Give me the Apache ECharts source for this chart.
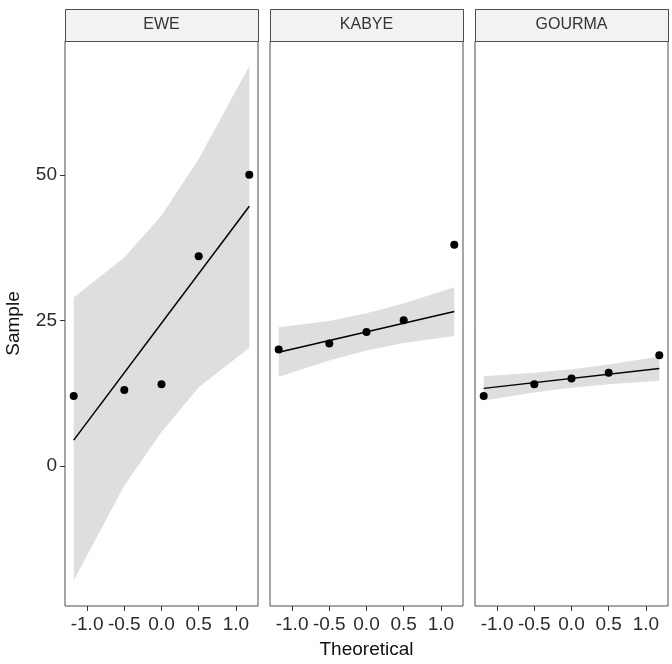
<!DOCTYPE html>
<html>
<head>
<meta charset="utf-8">
<script src="https://cdn.jsdelivr.net/npm/echarts@6/dist/echarts.min.js"></script>
<style>
  html, body { margin: 0; background: #fff; }
  #chart { width: 672px; height: 664px; }
</style>
</head>
<body>
<div id="chart"></div>
<script>
// facets
const panels = ['EWE', 'KABYE', 'GOURMA']
// theoretical normal quantiles (n = 5)
const theoretical = [-1.18, -0.5, 0, 0.5, 1.18]
const xTicks = [-1, -0.5, 0, 0.5, 1]
const yTicks = [0, 25, 50]

// sample values per facet
const sampleEwe = [12, 13, 14, 36, 50]
const sampleKabye = [20, 21, 23, 25, 38]
const sampleGourma = [12, 14, 15, 16, 19]

// qq line, value at the first and last theoretical quantile
const lineEwe = [4.4, 44.6]
const lineKabye = [19.5, 26.5]
const lineGourma = [13.3, 16.7]

// confidence band (lower / upper) at each theoretical quantile
const bandLowEwe = [-19.7, -3.4, 5.8, 13.5, 20.3]
const bandHighEwe = [28.9, 35.8, 43.0, 52.7, 68.7]
const bandLowKabye = [15.3, 18.1, 19.8, 21.1, 22.3]
const bandHighKabye = [23.8, 24.9, 26.2, 27.9, 30.7]
const bandLowGourma = [11.2, 12.6, 13.4, 14.0, 14.6]
const bandHighGourma = [15.4, 16.0, 16.6, 17.4, 18.8]

const samples = [sampleEwe, sampleKabye, sampleGourma]
const lines = [lineEwe, lineKabye, lineGourma]
const bandsLow = [bandLowEwe, bandLowKabye, bandLowGourma]
const bandsHigh = [bandHighEwe, bandHighKabye, bandHighGourma]

const font = 'Liberation Sans, Arial, sans-serif'
const panelLeft = [65, 270, 475]
const panelWidth = 193
const panelTop = 41
const panelHeight = 565
const stripTop = 9

const chart = echarts.init(document.getElementById('chart'))

const grid = panels.map((p, i) => ({
  left: panelLeft[i], top: panelTop, width: panelWidth, height: panelHeight,
  outerBoundsMode: 'none',
  show: true, borderColor: '#4d4d4d', borderWidth: 1, backgroundColor: '#fff'
}))

const xAxis = panels.map((p, i) => ({
  type: 'value', gridIndex: i, min: -1.297, max: 1.297,
  axisLine: { show: false, onZero: false },
  splitLine: { show: false },
  axisTick: { show: true, length: 5, customValues: xTicks, lineStyle: { color: '#333' } },
  axisLabel: {
    customValues: xTicks, color: '#2b2b2b', fontSize: 19, fontFamily: font, margin: 9,
    formatter: v => v.toFixed(1)
  },
  name: i === 1 ? 'Theoretical' : '',
  nameLocation: 'middle', nameGap: 34,
  nameTextStyle: { color: '#111', fontSize: 19, fontFamily: font }
}))

const yAxis = panels.map((p, i) => ({
  type: 'value', gridIndex: i, min: -24.1, max: 73.0,
  axisLine: { show: false, onZero: false },
  splitLine: { show: false },
  axisTick: { show: i === 0, length: 5, customValues: yTicks, lineStyle: { color: '#333' } },
  axisLabel: { show: i === 0, customValues: yTicks, color: '#2b2b2b', fontSize: 19, fontFamily: font, margin: 8 },
  name: i === 0 ? 'Sample' : '',
  nameLocation: 'middle', nameGap: 42,
  nameTextStyle: { color: '#111', fontSize: 19, fontFamily: font }
}))

function bandRender(lo, hi) {
  return (params, api) => {
    if (params.dataIndex !== 0) return
    const top = theoretical.map((x, k) => api.coord([x, hi[k]]))
    const bot = theoretical.map((x, k) => api.coord([x, lo[k]])).reverse()
    return { type: 'polygon', shape: { points: top.concat(bot) }, style: { fill: '#dedede' } }
  }
}

const series = []
panels.forEach((p, i) => {
  series.push({
    type: 'custom', xAxisIndex: i, yAxisIndex: i, silent: true,
    renderItem: bandRender(bandsLow[i], bandsHigh[i]),
    data: theoretical.map((x, k) => [x, bandsLow[i][k], bandsHigh[i][k]]),
    encode: { x: 0, y: [1, 2] }, z: 1
  })
  series.push({
    type: 'line', xAxisIndex: i, yAxisIndex: i, silent: true, symbol: 'none',
    data: [[theoretical[0], lines[i][0]], [theoretical[4], lines[i][1]]],
    lineStyle: { color: '#000', width: 1.5 }, z: 2
  })
  series.push({
    type: 'scatter', xAxisIndex: i, yAxisIndex: i, silent: true,
    symbolSize: 8, itemStyle: { color: '#000', opacity: 1 },
    data: theoretical.map((x, k) => [x, samples[i][k]]), z: 3
  })
})

const graphic = []
panels.forEach((p, i) => {
  graphic.push({
    type: 'rect', left: panelLeft[i], top: stripTop, silent: true,
    shape: { width: panelWidth, height: panelTop - stripTop },
    style: { fill: '#f2f2f2', stroke: '#4d4d4d', lineWidth: 1 }
  })
  graphic.push({
    type: 'text', x: panelLeft[i] + panelWidth / 2, y: stripTop + (panelTop - stripTop) / 2, silent: true,
    style: { text: p, fill: '#333', font: '16px ' + font, align: 'center', verticalAlign: 'middle' }
  })
})

chart.setOption({ animation: false, grid, xAxis, yAxis, series, graphic })
</script>
</body>
</html>
